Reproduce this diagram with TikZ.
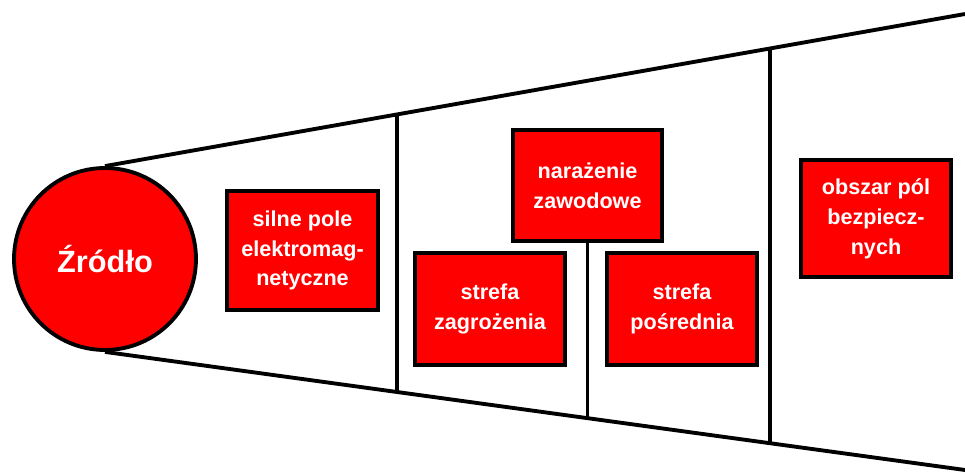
\documentclass[tikz,border=0pt]{standalone}
\usepackage{fontspec}
\setmainfont{Liberation Sans}
\usetikzlibrary{calc}
\definecolor{mred}{rgb}{1, 0, 0}
\tikzset{zone/.style = {draw, line width=2.2pt, fill=mred, text=white, align=center,
                        font=\bfseries\fontsize{12.3}{17}\selectfont,
                        minimum width=3cm, inner sep=0pt},
         edge/.style = {line width=2.2pt}}

\begin{document}
\begin{tikzpicture}[x=0.02cm, y=-0.02cm]
    \useasboundingbox (0, 0) rectangle (965, 472);

    \node [draw, circle, line width=2.2pt, fill=mred, text=white, minimum size=3.64cm,
           font=\bfseries\fontsize{17.5}{20}\selectfont] (src) at (105, 259) {Źródło};
    \coordinate (tr) at (965, 14);
    \coordinate (br) at (965, 470);

    \draw [edge] (src.north) -- (tr);
    \draw [edge] (src.south) -- (br);
    \draw [edge] ($(src.north)!0.34!(tr)$) -- ($(src.south)!0.34!(br)$);
    \draw [edge] ($(src.north)!0.773!(tr)$) -- ($(src.south)!0.773!(br)$);
    \coordinate (stem) at ($(src.south)!0.559!(br)$);

    \node [zone, minimum width=3.02cm, minimum height=2.38cm] (pole) at (302.5, 250.5) {silne pole\\elektromag-\\netyczne};
    \node [zone, minimum width=2.98cm, minimum height=2.22cm] (zaw) at (587.5, 185.5) {narażenie\\zawodowe};
    \node [zone, minimum height=2.24cm] (zagr) at (490, 309) {strefa\\zagrożenia};
    \node [zone, minimum height=2.24cm] (posr) at (682, 309) {strefa\\pośrednia};
    \node [zone, minimum height=2.34cm] (bezp) at (876, 218.5) {obszar pól\\bezpiecz-\\nych};

    \draw [edge] (zaw.south) -- (zaw.south |- stem);
  \end{tikzpicture}
\end{document}
